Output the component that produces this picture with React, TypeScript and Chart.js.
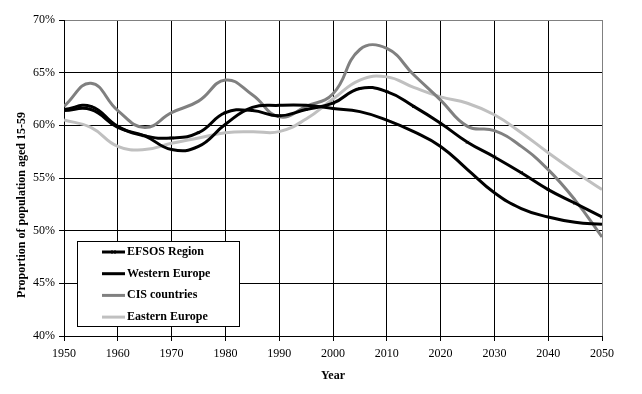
import React, { useEffect, useRef } from "react";
import { Chart, registerables } from "chart.js";

Chart.register(...registerables);

const years = [1950, 1955, 1960, 1965, 1970, 1975, 1980, 1985, 1990, 1995, 2000, 2005, 2010, 2015, 2020, 2025, 2030, 2035, 2040, 2045, 2050];

const efsos = [61.5, 61.8, 59.9, 59.0, 58.8, 59.3, 61.2, 61.4, 60.9, 61.5, 62.1, 63.5, 63.2, 61.8, 60.2, 58.4, 57.0, 55.5, 53.9, 52.6, 51.3];
const western = [61.4, 61.5, 59.8, 59.0, 57.7, 58.0, 60.1, 61.7, 61.9, 61.9, 61.6, 61.3, 60.5, 59.4, 58.0, 55.8, 53.6, 52.1, 51.3, 50.8, 50.6];
const cis = [61.8, 64.0, 61.4, 59.8, 61.2, 62.3, 64.3, 62.9, 60.8, 61.8, 63.0, 67.2, 67.3, 64.8, 62.4, 59.9, 59.5, 58.0, 55.8, 52.9, 49.4];
const eastern = [60.5, 59.8, 58.0, 57.7, 58.3, 58.8, 59.3, 59.4, 59.4, 60.6, 62.5, 64.3, 64.6, 63.6, 62.7, 62.1, 61.0, 59.3, 57.4, 55.6, 53.9];

const seriesNames = ["EFSOS Region", "Western Europe", "CIS countries", "Eastern Europe"];
const seriesColors = ["#000000", "#000000", "#808080", "#c0c0c0"];
const yTicks = [40, 45, 50, 55, 60, 65, 70];
const xTicks = [1950, 1960, 1970, 1980, 1990, 2000, 2010, 2020, 2030, 2040, 2050];
const xTitle = "Year";
const yTitle = "Proportion of population aged 15-59";

const FONT = "'Liberation Serif', 'Times New Roman', serif";

const toPoints = (vals: number[]) => vals.map((v, i) => ({ x: years[i], y: v }));

const overlayPlugin = {
  id: "overlay",
  afterDraw(chart: any) {
    const ctx = chart.ctx as CanvasRenderingContext2D;
    ctx.save();
    // legend
    const bx = 77.5, by = 241.5, bw = 162, bh = 85;
    ctx.fillStyle = "#ffffff";
    ctx.fillRect(bx, by, bw, bh);
    ctx.strokeStyle = "#000000";
    ctx.lineWidth = 1;
    ctx.strokeRect(bx, by, bw, bh);
    ctx.font = `bold 12px ${FONT}`;
    ctx.textBaseline = "middle";
    ctx.textAlign = "left";
    chart.data.datasets.forEach((ds: any, i: number) => {
      const y = 252 + i * 21.7;
      ctx.strokeStyle = ds.borderColor;
      ctx.lineWidth = 3;
      ctx.beginPath();
      ctx.moveTo(102, y);
      ctx.lineTo(125, y);
      ctx.stroke();
      if (ds.pointRadius > 0) {
        ctx.lineWidth = 1;
        ctx.beginPath();
        ctx.moveTo(111.5, y - 2);
        ctx.lineTo(115.5, y + 2);
        ctx.moveTo(115.5, y - 2);
        ctx.lineTo(111.5, y + 2);
        ctx.stroke();
      }
      ctx.fillStyle = "#000000";
      ctx.fillText(ds.label, 127, y);
    });
    // y title
    ctx.translate(22, 205);
    ctx.rotate(-Math.PI / 2);
    ctx.textAlign = "center";
    ctx.textBaseline = "middle";
    ctx.fillStyle = "#000000";
    ctx.font = `bold 12px ${FONT}`;
    ctx.fillText(yTitle, 0, 0);
    ctx.restore();
  },
};

export default function App() {
  const ref = useRef<HTMLCanvasElement | null>(null);
  useEffect(() => {
    document.body.style.margin = "0";
    const values = [efsos, western, cis, eastern];
    const chart = new Chart(ref.current as HTMLCanvasElement, {
      type: "line",
      data: {
        datasets: values.map((vals, i) => ({
          label: seriesNames[i],
          data: toPoints(vals),
          borderColor: seriesColors[i],
          backgroundColor: seriesColors[i],
          borderWidth: 3,
          tension: 0.45,
          pointRadius: i === 0 ? 2 : 0,
          pointStyle: "crossRot",
          pointBorderWidth: 1,
          fill: false,
        })),
      },
      options: {
        animation: false,
        responsive: false,
        devicePixelRatio: 1,
        layout: { padding: { left: 0, top: 20, right: 40, bottom: 0 } },
        plugins: {
          legend: { display: false },
          tooltip: { enabled: false },
        },
        scales: {
          x: {
            type: "linear",
            min: 1950,
            max: 2050,
            afterFit: (s: any) => { s.height = 58; },
            afterBuildTicks: (s: any) => { s.ticks = xTicks.map((v) => ({ value: v })); },
            ticks: {
              color: "#000",
              font: { family: FONT, size: 12 },
              padding: 6,
              maxRotation: 0,
              autoSkip: false,
              callback: (v: any) => String(v),
            },
            grid: {
              color: (c: any) => (c.tick && c.tick.value === 2050 ? "#808080" : "#000000"),
              tickColor: "#000000",
              tickLength: 5,
              lineWidth: 1,
            },
            border: { color: "#000000", width: 1 },
            title: {
              display: true,
              text: xTitle,
              color: "#000",
              font: { family: FONT, size: 12, weight: "bold" },
              padding: { top: 0, bottom: 11 },
            },
          },
          y: {
            min: 40,
            max: 70,
            afterFit: (s: any) => { s.width = 64; },
            afterBuildTicks: (s: any) => { s.ticks = yTicks.map((v) => ({ value: v })); },
            ticks: {
              color: "#000",
              font: { family: FONT, size: 12 },
              padding: 4,
              callback: (v: any) => `${v}%`,
            },
            grid: {
              color: (c: any) => (c.tick && c.tick.value === 70 ? "#808080" : "#000000"),
              tickColor: "#000000",
              tickLength: 5,
              lineWidth: 1,
            },
            border: { color: "#000000", width: 1 },
          },
        },
      },
      plugins: [overlayPlugin],
    } as any);
    return () => chart.destroy();
  }, []);
  return (
    <div style={{ position: "absolute", left: 0, top: 0, width: 642, height: 394, background: "#fff" }}>
      <canvas ref={ref} width={642} height={394} />
    </div>
  );
}
